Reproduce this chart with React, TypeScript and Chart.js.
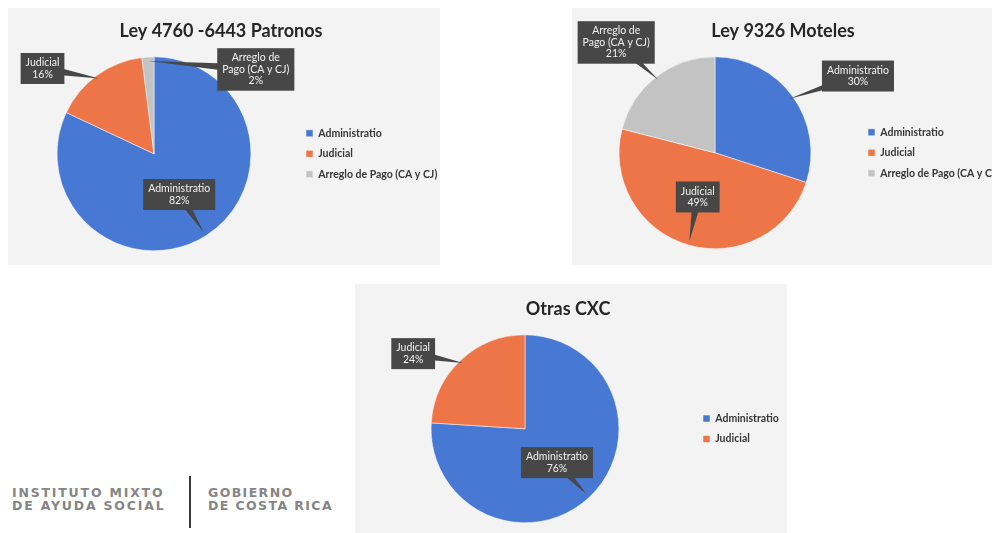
import React, { useEffect, useRef } from "react";
import { Chart, registerables } from "chart.js";

Chart.register(...registerables);

// ---------- data ----------
const categoriesFull = ["Administratio", "Judicial", "Arreglo de Pago (CA y CJ)"];
const categoriesShort = ["Administratio", "Judicial"];
const calloutText = ["Administratio", "Judicial", "Arreglo de\nPago (CA y CJ)"];

const patronosTitle = "Ley 4760 -6443 Patronos";
const patronosValues = [82, 16, 2];

const motelesTitle = "Ley 9326 Moteles";
const motelesValues = [30, 49, 21];

const otrasTitle = "Otras CXC";
const otrasValues = [76, 24];

const sliceColors = ["#4779d4", "#ee7548", "#c3c3c3"];

// callout box placement: offset of box centre from pie centre, in pie radii
const patronosCallouts = [
  [0.26, 0.42],
  [-1.15, -0.88],
  [1.05, -0.87],
];
const motelesCallouts = [
  [1.49, -0.8],
  [-0.18, 0.46],
  [-1.03, -1.15],
];
const otrasCallouts = [
  [0.34, 0.36],
  [-1.19, -0.8],
];

const FONT = "Lato, 'Open Sans', sans-serif";

const calloutPlugin = {
  id: "callouts",
  afterLayout(chart: any) {
    // let legend text run to the canvas edge instead of being clipped
    const lg = chart.legend;
    if (lg) {
      lg.right = chart.width;
      lg.width = lg.right - lg.left;
    }
  },
  afterDatasetsDraw(chart: any, _args: any, opts: any) {
    const meta = chart.getDatasetMeta(0);
    const data = chart.data.datasets[0].data as number[];
    const total = data.reduce((a: number, b: number) => a + b, 0);
    const ctx = chart.ctx as CanvasRenderingContext2D;
    ctx.save();
    ctx.font = `10.5px ${FONT}`;
    const padX = 5;
    const padY = 4;
    const lineH = 11.5;
    meta.data.forEach((arc: any, i: number) => {
      const p = arc.getProps(["x", "y", "startAngle", "endAngle", "outerRadius"], true);
      const mid = (p.startAngle + p.endAngle) / 2;
      const tipX = p.x + Math.cos(mid) * p.outerRadius * 0.96;
      const tipY = p.y + Math.sin(mid) * p.outerRadius * 0.96;
      const [ox, oy] = opts.offsets[i];
      const bx = p.x + ox * p.outerRadius;
      const by = p.y + oy * p.outerRadius;
      const lines = [
        ...String(opts.text[i]).split("\n"),
        Math.round((data[i] / total) * 100) + "%",
      ];
      const w = Math.max(...lines.map((l) => ctx.measureText(l).width)) + padX * 2;
      const h = lines.length * lineH + padY * 2;
      const dx = tipX - bx;
      const dy = tipY - by;
      const len = Math.hypot(dx, dy) || 1;
      const nx = -dy / len;
      const ny = dx / len;
      ctx.fillStyle = "#474747";
      ctx.beginPath();
      ctx.moveTo(bx + nx * 5, by + ny * 5);
      ctx.lineTo(tipX, tipY);
      ctx.lineTo(bx - nx * 5, by - ny * 5);
      ctx.closePath();
      ctx.fill();
      ctx.fillRect(bx - w / 2, by - h / 2, w, h);
      ctx.fillStyle = "#f2f2f2";
      ctx.textAlign = "center";
      ctx.textBaseline = "middle";
      lines.forEach((l, k) => {
        ctx.fillText(l, bx, by - h / 2 + padY + lineH * (k + 0.5));
      });
    });
    ctx.restore();
  },
};

type CardProps = {
  left: number;
  top: number;
  width: number;
  height: number;
  title: string;
  labels: string[];
  values: number[];
  offsets: number[][];
  legendWidth: number;
  padding: { left: number; right: number; top: number; bottom: number };
};

function PieCard(props: CardProps) {
  const ref = useRef<HTMLCanvasElement | null>(null);
  useEffect(() => {
    if (!ref.current) return;
    const chart = new Chart(ref.current, {
      type: "pie",
      data: {
        labels: props.labels,
        datasets: [
          {
            data: props.values,
            backgroundColor: sliceColors.slice(0, props.values.length),
            borderColor: "#ffffff",
            borderWidth: 0.5,
          },
        ],
      },
      options: {
        animation: false,
        responsive: false,
        maintainAspectRatio: false,
        layout: { padding: props.padding },
        plugins: {
          title: {
            display: true,
            text: props.title,
            color: "#262626",
            font: { family: FONT, size: 18, weight: "bold", lineHeight: 1.2 },
            padding: { top: 12, bottom: 15 },
          },
          legend: {
            position: "right",
            fullSize: false,
            maxWidth: props.legendWidth,
            labels: {
              boxWidth: 7,
              boxHeight: 7,
              padding: 10,
              color: "#363636",
              font: { family: FONT, size: 10.5, weight: "bold" },
            },
          },
          tooltip: { enabled: false },
          callouts: { offsets: props.offsets, text: calloutText },
        } as any,
      },
      plugins: [calloutPlugin as any],
    });
    return () => chart.destroy();
  }, []);
  return (
    <div
      style={{
        position: "absolute",
        left: props.left,
        top: props.top,
        width: props.width,
        height: props.height,
        background: "#f3f3f3",
        overflow: "hidden",
      }}
    >
      <canvas ref={ref} width={props.width} height={props.height} style={{ display: "block" }} />
    </div>
  );
}

export default function App() {
  const logo: React.CSSProperties = {
    position: "absolute",
    fontFamily: "'DejaVu Sans', sans-serif",
    fontWeight: "bold",
    fontSize: 12.5,
    letterSpacing: 1.8,
    lineHeight: "13px",
    color: "#858585",
    whiteSpace: "nowrap",
  };
  return (
    <div
      style={{
        position: "fixed",
        left: 0,
        top: 0,
        width: 992,
        height: 533,
        overflow: "hidden",
        background: "#ffffff",
      }}
    >
      <PieCard
        left={8}
        top={8}
        width={432}
        height={257}
        title={patronosTitle}
        labels={categoriesFull}
        values={patronosValues}
        offsets={patronosCallouts}
        legendWidth={134}
        padding={{ left: 4, right: 10, top: 0, bottom: 14 }}
      />
      <PieCard
        left={572}
        top={8}
        width={432}
        height={257}
        title={motelesTitle}
        labels={categoriesFull}
        values={motelesValues}
        offsets={motelesCallouts}
        legendWidth={136}
        padding={{ left: 0, right: 10, top: 0, bottom: 16 }}
      />
      <PieCard
        left={355}
        top={284}
        width={432}
        height={257}
        title={otrasTitle}
        labels={categoriesShort}
        values={otrasValues}
        offsets={otrasCallouts}
        legendWidth={86}
        padding={{ left: 2, right: 8, top: 2, bottom: 18 }}
      />
      <div style={{ ...logo, left: 12, top: 486 }}>
        INSTITUTO MIXTO
        <br />
        DE AYUDA SOCIAL
      </div>
      <div
        style={{
          position: "absolute",
          left: 189,
          top: 476,
          width: 2,
          height: 52,
          background: "#3a3a3a",
        }}
      />
      <div style={{ ...logo, left: 208, top: 486, letterSpacing: 1.4 }}>
        GOBIERNO
        <br />
        DE COSTA RICA
      </div>
    </div>
  );
}
